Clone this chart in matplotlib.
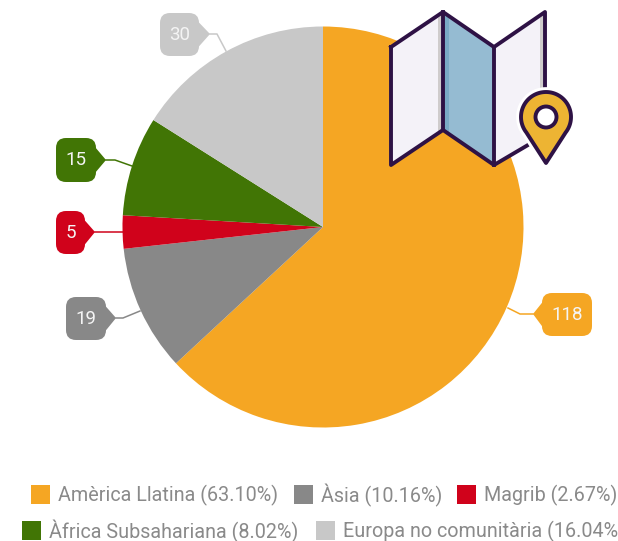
import matplotlib
matplotlib.use('Agg')
import numpy as np
import matplotlib.pyplot as plt
from matplotlib.patches import FancyBboxPatch, Polygon, Circle, Rectangle

plt.rcParams['font.family'] = ['Roboto', 'DejaVu Sans']

# Data
regions = ['Amèrica Llatina', 'Àsia', 'Magrib', 'Àfrica Subsahariana', 'Europa no comunitària']
values = [118, 19, 5, 15, 30]
shares = ['63.10', '10.16', '2.67', '8.02', '16.04']
colors = ['#F5A623', '#888888', '#D0021B', '#417505', '#C8C8C8']

fig = plt.figure(figsize=(6.18, 5.41), dpi=100)
ax = fig.add_axes([0, 0, 1, 1])

# y axis is inverted so coordinates are pixels of the picture
ax.pie(values, colors=colors, startangle=-90, counterclock=True,
       center=(323, 227), radius=200.5, wedgeprops={'linewidth': 0})
ax.set_xlim(0, 618)
ax.set_ylim(541, 0)
ax.set_aspect('equal')
ax.axis('off')

# Callouts: box (x0, x1, y0, y1), pointer tip, leader line
callouts = [
    ((542, 592, 293, 336), (533, 314), [(533, 314), (520, 314), (508, 308)]),
    ((66, 106, 297, 340), (116, 318), [(116, 318), (123, 318), (140, 311)]),
    ((56, 85, 211, 254), (95, 232), [(95, 232), (123, 232)]),
    ((56, 96, 138, 182), (106, 160), [(106, 160), (115, 160), (132, 166)]),
    ((160, 199, 13, 56), (210, 34), [(210, 34), (217, 34), (226, 51)]),
]
for val, col, (box, tip, line) in zip(values, colors, callouts):
    x0, x1, y0, y1 = box
    xs, ys = zip(*line)
    ax.plot(xs, ys, color=col, lw=1.1, zorder=3)
    ax.add_patch(FancyBboxPatch((x0 + 10, y0 + 10), x1 - x0 - 20, y1 - y0 - 20,
                                boxstyle='round,pad=10,rounding_size=10', fc=col, ec='none', zorder=4))
    ym = (y0 + y1) / 2
    if tip[0] > x1:
        ax.add_patch(Polygon([(x1 - 1, ym - 13), tip, (x1 - 1, ym + 13)], fc=col, ec='none', zorder=4))
    else:
        ax.add_patch(Polygon([(x0 + 1, ym - 13), tip, (x0 + 1, ym + 13)], fc=col, ec='none', zorder=4))
    ax.text((x0 + x1) / 2, ym, str(val), color='#F4F4F4', fontsize=13.5, ha='center', va='center', zorder=5)

# Map icon
dark = '#2E1245'
ax.add_patch(Polygon([(391, 47), (443, 12), (443, 130), (391, 165)], fc='#F4F2F8', ec='none', zorder=6))
ax.add_patch(Polygon([(494, 47), (545, 12), (545, 135), (494, 165)], fc='#F4F2F8', ec='none', zorder=6))
ax.add_patch(Polygon([(443, 12), (494, 47), (494, 165), (443, 130)], fc='#95BBD2', ec='none', zorder=6))
ax.add_patch(Polygon([(443, 12), (449, 16), (449, 134), (443, 130)], fc='#7AAAC5', ec='none', zorder=6))
ax.add_patch(Polygon([(438, 18), (443, 14), (443, 130), (438, 133)], fc='#CFCCCC', ec='none', zorder=6))
ax.add_patch(Polygon([(540, 18), (545, 14), (545, 135), (540, 138)], fc='#CFCCCC', ec='none', zorder=6))
ax.plot([391, 443, 494, 545, 545, 494, 443, 391, 391],
        [47, 12, 47, 12, 135, 165, 130, 165, 47],
        color=dark, lw=2.8, solid_joinstyle='round', zorder=7)
ax.plot([443, 443], [12, 130], color=dark, lw=2.8, zorder=7)
ax.plot([494, 494], [47, 165], color=dark, lw=2.8, zorder=7)

# Pin on top of the map
t = np.radians(np.linspace(-38, 218, 80))
pin_x = np.r_[546 + 25 * np.cos(t), 546]
pin_y = np.r_[117 - 25 * np.sin(t), 163]
ax.add_patch(Polygon(np.c_[pin_x, pin_y], fc='white', ec='white', lw=7, zorder=8))
ax.add_patch(Polygon(np.c_[pin_x, pin_y], fc='#EDB433', ec=dark, lw=2.8, joinstyle='round', zorder=9))
ax.add_patch(Circle((546, 117), 10.5, fc='white', ec=dark, lw=2.8, zorder=10))

# Legend, two rows, the second runs off the right edge
legend_pos = [(31, 485), (294, 485), (457, 485), (22, 521), (316, 521)]
for name, share, col, (x, y) in zip(regions, shares, colors, legend_pos):
    ax.add_patch(Rectangle((x, y), 19, 19, fc=col, ec='none', zorder=3))
    ax.text(x + 27, y + 10, f'{name} ({share}%)', color='#8A8A8A', fontsize=14.2,
            ha='left', va='center', zorder=3)

fig.savefig('out.png', dpi=100)
